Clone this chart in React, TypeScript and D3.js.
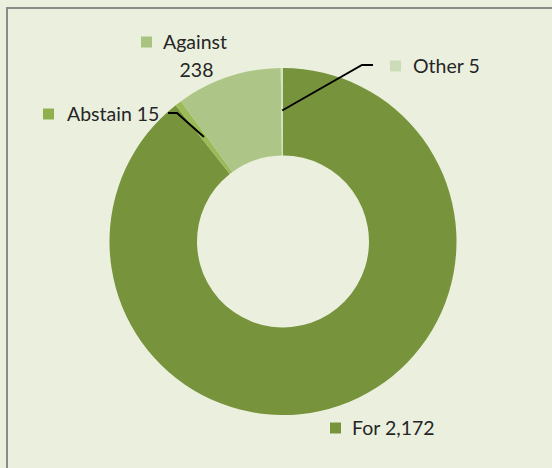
import React from "react";
import * as d3 from "d3";

const categories = ["For", "Abstain", "Against", "Other"];
const values = [2172, 15, 238, 5];
const labelTexts = ["For 2,172", "Abstain 15", "Against|238", "Other 5"];
const colors = ["#77933c", "#9bbb59", "#adc687", "#d4e2bd"];
const legendColors = ["#77933c", "#8fb04f", "#a9c480", "#cddcb8"];

const W = 552;
const H = 468;
const cx = 283;
const cy = 241.5;
const outerR = 173.5;
const innerR = 86;
const leaderR = 131;

// label anchor positions (square x, text start x, text center y) and leader elbow
const labelPos = [
  { sx: 330, x: 352, y: 428, leader: null },
  { sx: 43, x: 67, y: 114, leader: { ex: 168, ey: 113, kx: 177, ky: 113 } },
  { sx: 141, x: 163, y: 42, leader: null },
  { sx: 390, x: 413, y: 66, leader: { ex: 373, ey: 65, kx: 362, ky: 65 } },
];

export default function App() {
  const pie = d3
    .pie<number>()
    .sort(null)
    .value((d) => d)
    .startAngle(0)
    .endAngle(2 * Math.PI);
  const arcs = pie(values);
  const arcGen = d3.arc<d3.PieArcDatum<number>>().innerRadius(innerR).outerRadius(outerR);
  const font = "Lato, 'Open Sans', sans-serif";
  const fs = 19.5;

  return (
    <div style={{ position: "fixed", left: 0, top: 0 }}>
      <svg width={W} height={H} style={{ display: "block" }}>
        <rect x={0} y={0} width={W} height={H} fill="#ebf0de" />
        <rect x={7} y={8} width={W + 20} height={H + 20} fill="#ebf0de" stroke="#8a8a8a" strokeWidth={2} />
        <g transform={`translate(${cx},${cy})`}>
          {arcs.map((a, i) => (
            <path key={categories[i]} d={arcGen(a) || ""} fill={colors[i]} />
          ))}
        </g>
        {arcs.map((a, i) => {
          const lp = labelPos[i];
          if (!lp.leader) return null;
          const mid = (a.startAngle + a.endAngle) / 2;
          const px = cx + leaderR * Math.sin(mid);
          const py = cy - leaderR * Math.cos(mid);
          return (
            <polyline
              key={"l" + i}
              points={`${px},${py} ${lp.leader.kx},${lp.leader.ky} ${lp.leader.ex},${lp.leader.ey}`}
              fill="none"
              stroke="#000"
              strokeWidth={2}
            />
          );
        })}
        {labelTexts.map((t, i) => {
          const lp = labelPos[i];
          const parts = t.split("|");
          return (
            <g key={"t" + i}>
              <rect x={lp.sx} y={lp.y - 5.5} width={11} height={11} fill={legendColors[i]} />
              <text x={lp.x} y={lp.y} dy="0.36em" fontFamily={font} fontSize={fs} fill="#262626">
                {parts[0]}
              </text>
              {parts[1] && (
                <text
                  x={lp.x + 33.5}
                  y={lp.y + 28}
                  dy="0.36em"
                  textAnchor="middle"
                  fontFamily={font}
                  fontSize={fs}
                  fill="#262626"
                >
                  {parts[1]}
                </text>
              )}
            </g>
          );
        })}
      </svg>
    </div>
  );
}
